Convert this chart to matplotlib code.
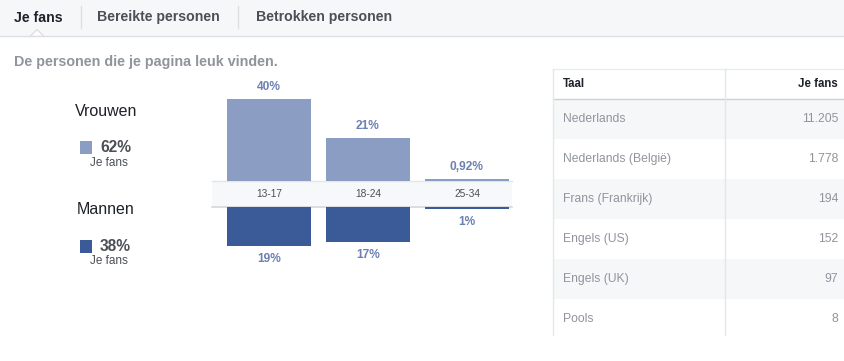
import matplotlib
matplotlib.use('Agg')
import matplotlib.pyplot as plt
import matplotlib.transforms as mtransforms
from matplotlib.patches import Rectangle, Polygon

plt.rcParams['font.family'] = ['Liberation Sans', 'DejaVu Sans']

# data
tabs = ['Je fans', 'Bereikte personen', 'Betrokken personen']
subtitle = 'De personen die je pagina leuk vinden.'
age_groups = ['13-17', '18-24', '25-34']
women = [40, 21, 0.92]
men = [19, 17, 1]
women_total = 62
men_total = 38
languages = ['Nederlands', 'Nederlands (België)', 'Frans (Frankrijk)',
             'Engels (US)', 'Engels (UK)', 'Pools']
fans = [11205, 1778, 194, 152, 97, 8]

W, H = 844, 361
C_WOMEN = '#8b9dc3'
C_MEN = '#3b5b98'
C_LABEL = '#6d80b3'
C_DARK = '#1d2129'
C_MID = '#4b4f56'
C_GRAY = '#90949c'
C_LINE = '#dddfe2'
C_BG = '#f6f7f9'


def pct(v):
    return f'{v:g}%'.replace('.', ',')


def box(x0, y0, x1, y1):
    return [x0 / W, 1 - y1 / H, (x1 - x0) / W, (y1 - y0) / H]


fig = plt.figure(figsize=(W / 100, H / 100), dpi=100)
bg = fig.add_axes([0, 0, 1, 1], zorder=0)
bg.set_xlim(0, W)
bg.set_ylim(H, 0)
bg.axis('off')

# tab bar
bg.add_patch(Rectangle((0, 0), W, 36, facecolor=C_BG, edgecolor='none'))
bg.plot([0, W], [36, 36], color=C_LINE, lw=1)
bg.add_patch(Polygon([[30, 36.5], [37, 29.5], [44, 36.5]], closed=True,
                     facecolor='white', edgecolor=C_LINE, lw=1))
bg.add_patch(Rectangle((30.8, 36), 12.4, 1.5, facecolor='white', edgecolor='none'))
tab_x = [14, 97, 256]
for i, (t, x) in enumerate(zip(tabs, tab_x)):
    bg.text(x, 17.5, t, fontsize=10.2, fontweight='bold',
            color=C_DARK if i == 0 else C_MID, ha='left', va='center')
for x in [81, 238]:
    bg.plot([x, x], [6, 28], color=C_LINE, lw=1)

bg.text(14, 62, subtitle, fontsize=10.3, fontweight='bold', color=C_GRAY,
        ha='left', va='center')

# gender legend
for name, total, color, y in [('Vrouwen', women_total, C_WOMEN, 111),
                              ('Mannen', men_total, C_MEN, 210)]:
    bg.text(106, y, name, fontsize=11.5, color=C_DARK, ha='center', va='center')
    bg.add_patch(Rectangle((80, y + 30), 12, 13, facecolor=color, edgecolor='none'))
    bg.text(100, y + 36.5, f'{total}%', fontsize=11.2, fontweight='bold',
            color=C_MID, ha='left', va='center')
    bg.text(109, y + 51.5, 'Je fans', fontsize=8.5, color=C_MID,
            ha='center', va='center')

# center band
bg.add_patch(Rectangle((212, 181), 300, 26, facecolor='#f7f8f9', edgecolor='none'))
bg.plot([212, 512], [181, 181], color='#e3e5e8', lw=1)
bg.plot([212, 512], [207, 207], color='#d5d7db', lw=1.2)

# bar axes
scale = 2.05
xlim = ((212 - 269) / 99, (512 - 269) / 99)
ax_top = fig.add_axes(box(212, 40, 512, 181), zorder=1)
ax_top.set_xlim(*xlim)
ax_top.set_ylim(0, 141 / scale)
ax_bot = fig.add_axes(box(212, 207, 512, 300), zorder=1)
ax_bot.set_xlim(*xlim)
ax_bot.set_ylim(93 / scale, 0)
for a in (ax_top, ax_bot):
    a.axis('off')
    a.patch.set_alpha(0)

xs = list(range(len(age_groups)))
ax_top.bar(xs, women, width=0.85, color=C_WOMEN, align='center')
ax_bot.bar(xs, men, width=0.85, color=C_MEN, align='center')
for x, v in zip(xs, women):
    ax_top.annotate(pct(v), (x, v), xytext=(0, 8.6), textcoords='offset points',
                    ha='center', va='center', fontsize=8.6, fontweight='bold',
                    color=C_LABEL)
for x, v in zip(xs, men):
    ax_bot.annotate(pct(v), (x, v), xytext=(0, -9.2), textcoords='offset points',
                    ha='center', va='center', fontsize=8.6, fontweight='bold',
                    color=C_LABEL)
tr = mtransforms.blended_transform_factory(ax_top.transData, bg.transData)
for x, g in zip(xs, age_groups):
    bg.text(x, 194, g, transform=tr, fontsize=7.3, color=C_MID,
            ha='center', va='center')

# table
tx0, tx1, tmid = 553, W, 725
bg.plot([tx0, tx1], [69, 69], color='#e9ebee', lw=1)
bg.text(563, 84, 'Taal', fontsize=8.3, fontweight='bold', color=C_DARK,
        ha='left', va='center')
bg.text(838, 84, 'Je fans', fontsize=8.3, fontweight='bold', color=C_DARK,
        ha='right', va='center')
for i, (lang, n) in enumerate(zip(languages, fans)):
    top = 99 + 40 * i
    bottom = min(top + 40, 335)
    if i % 2 == 0:
        bg.add_patch(Rectangle((tx0, top), tx1 - tx0, bottom - top,
                               facecolor=C_BG, edgecolor='none'))
    bg.text(563, top + 20, lang, fontsize=8.7, color=C_GRAY, ha='left', va='center')
    bg.text(838, top + 20, f'{n:,}'.replace(',', '.'), fontsize=8.7,
            color=C_GRAY, ha='right', va='center')
bg.plot([tx0, tx1], [98.5, 98.5], color='#cdd0d4', lw=1)
for x in [tx0, tmid]:
    bg.plot([x, x], [69, 335], color='#e4e6e9', lw=1)

fig.savefig('out.png', dpi=100)
